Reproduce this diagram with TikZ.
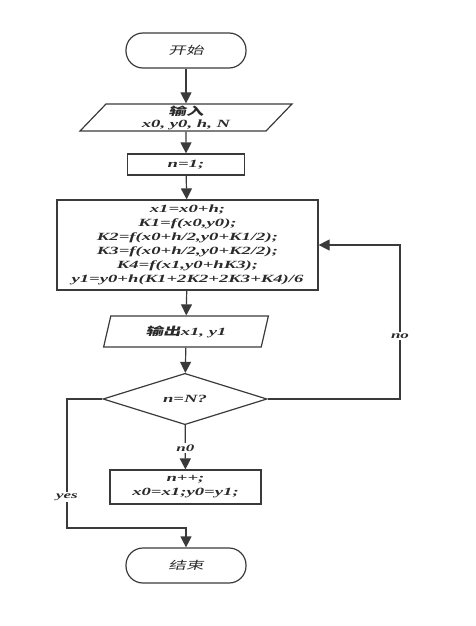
\documentclass[tikz,border=0pt]{standalone}
\usepackage{fontspec}
\usetikzlibrary{shapes.geometric,arrows.meta}
\newfontfamily\lf{Liberation Serif}[FakeStretch=1.7]
\newfontfamily\cjk{Noto Sans CJK SC}[FakeSlant=0.25,FakeStretch=1.6]
\definecolor{ln}{HTML}{3A3A3A}
\definecolor{tx}{HTML}{2A2A2A}
\tikzset{
  every node/.style={font=\fontsize{11}{14}\selectfont\lf\bfseries\itshape, text=tx, align=center},
  term/.style={draw=ln, line width=1.2pt, rectangle, rounded corners=17pt, minimum width=120pt, minimum height=35pt, inner sep=0pt},
  proc/.style={draw=ln, line width=1.2pt, rectangle, inner sep=0pt},
  io/.style={draw=ln, line width=1.2pt, trapezium, trapezium stretches=true, inner sep=0pt},
  dec/.style={draw=ln, line width=1.2pt, diamond, inner sep=0pt},
  arr/.style={draw=ln, line width=1.2pt, -{Triangle[width=11pt,length=11pt]}},
  lnk/.style={draw=ln, line width=1.2pt},
  lab/.style={fill=white, inner sep=1.5pt, font=\fontsize{10}{12}\selectfont\lf\bfseries\itshape}
}
\begin{document}
\begin{tikzpicture}[x=1pt,y=-1pt]
\useasboundingbox (0,0) rectangle (475,626);
\node[term] (start) at (186,50.5) {\cjk\mdseries 开始};
\node[io, trapezium left angle=59, trapezium right angle=121, minimum width=212pt, minimum height=27pt] (in) at (186,117.5) {{\cjk 输入}\\[-2pt] x0, y0, h, N};
\node[proc, minimum width=117pt, minimum height=21pt] (n1) at (186,164.5) {n=1;};
\node[proc, minimum width=261pt, minimum height=90pt] (calc) at (187.5,245) {x1=x0+h;\\K1=f(x0,y0);\\K2=f(x0+h/2,y0+K1/2);\\K3=f(x0+h/2,y0+K2/2);\\K4=f(x1,y0+hK3);\\y1=y0+h(K1+2K2+2K3+K4)/6};
\node[io, trapezium left angle=72, trapezium right angle=108, minimum width=166pt, minimum height=31pt] (out) at (186,331.5) {{\cjk 输出}x1, y1};
\node[dec, minimum width=164pt, minimum height=44pt] (dia) at (185,399) {n=N?};
\node[proc, minimum width=151pt, minimum height=34pt] (npp) at (185.5,487) {n++;\\x0=x1;y0=y1;};
\node[term] (end) at (186,565.5) {\cjk\mdseries 结束};
\coordinate (nc) at (400,399);
\coordinate (yc) at (67,528);
\draw[arr] (start) -- (in);
\draw[arr] (in) -- (n1);
\draw[arr] (n1) -- (calc);
\draw[arr] (calc) -- (out);
\draw[arr] (out) -- (dia);
\draw[arr] (dia) -- node[lab, pos=0.52]{n0} (npp);
\draw[arr] (dia.east) -- (nc) |- node[lab, pos=0.205]{no} (calc.east);
\draw[arr] (dia.west) -| node[lab, pos=0.88]{yes} (yc) -| (end.north);
\end{tikzpicture}
\end{document}
